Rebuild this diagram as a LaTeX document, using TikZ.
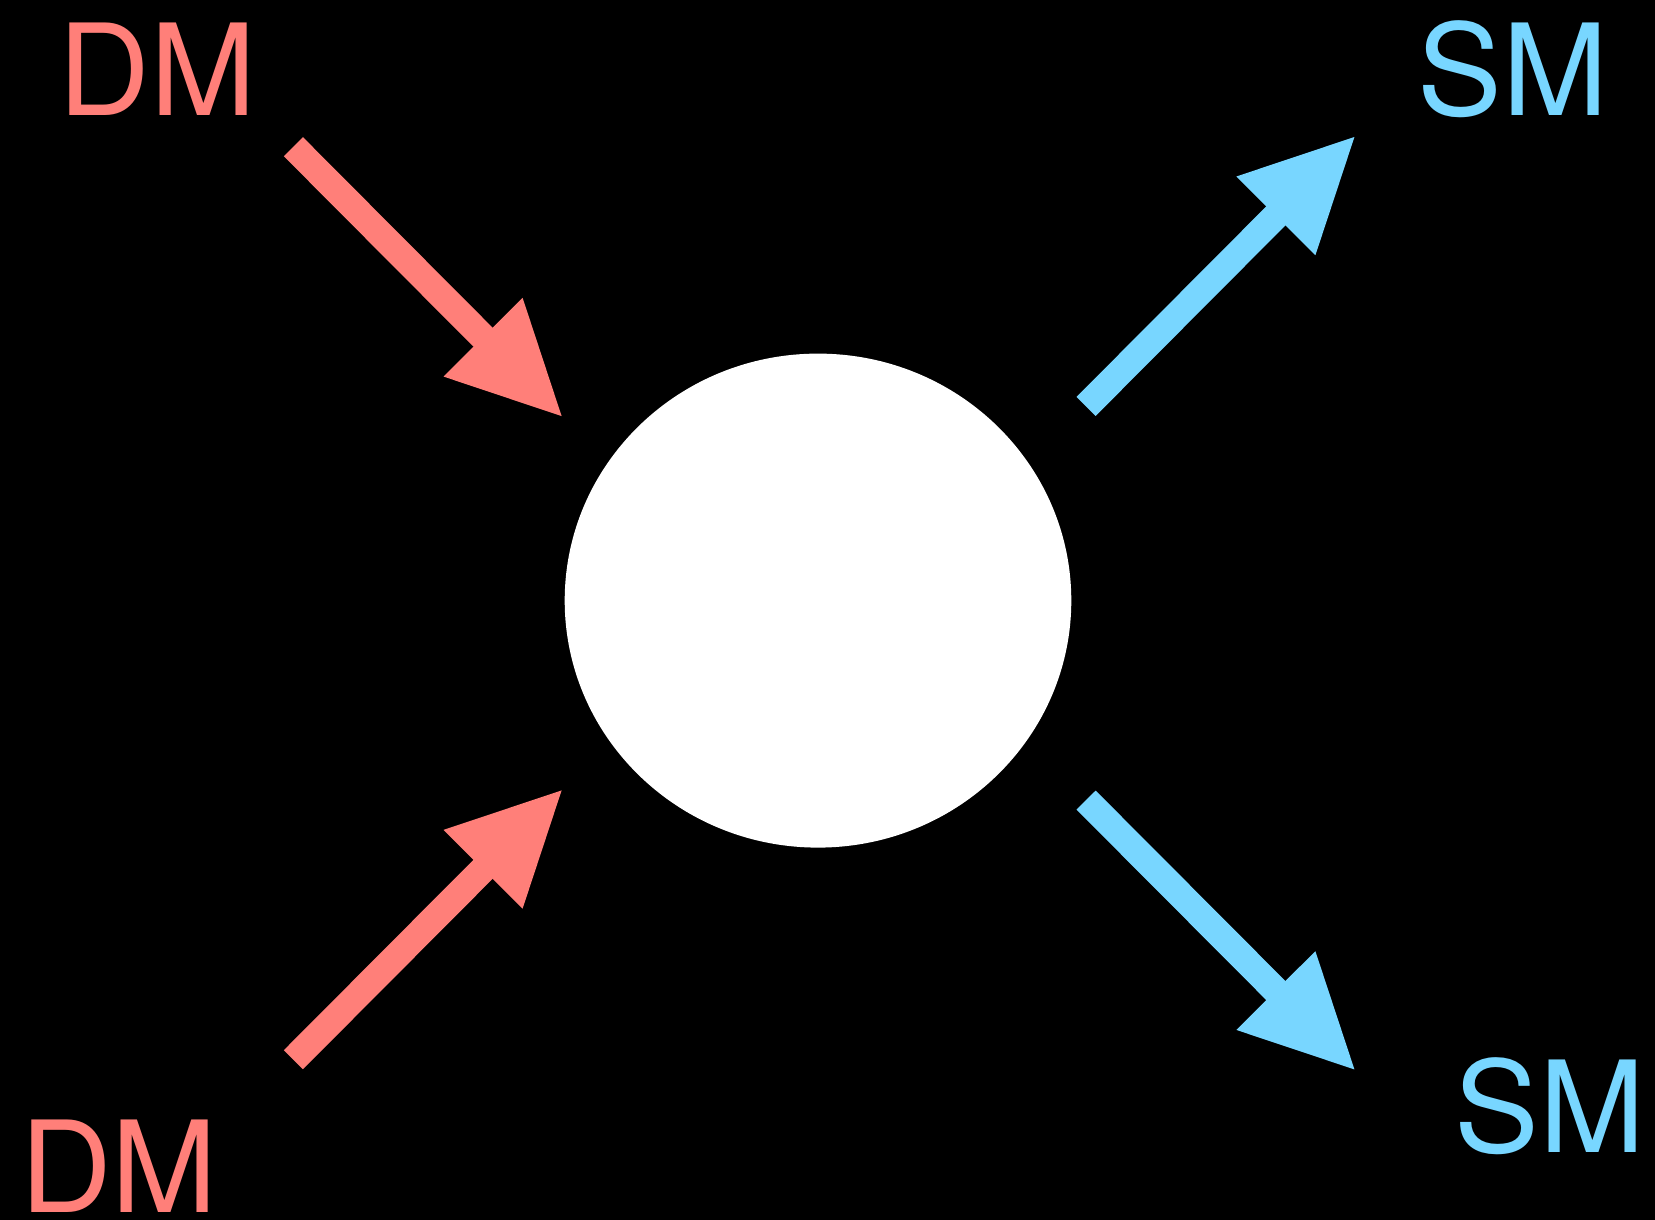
\documentclass[tikz,border=0pt]{standalone}
\usepackage{fontspec}
\setmainfont{TeX Gyre Heros}
\usetikzlibrary{arrows.meta}
\definecolor{dmred}{HTML}{FF7F79}
\definecolor{smblue}{HTML}{78D6FF}
\begin{document}
\begin{tikzpicture}[x=1pt, y=-1pt,
    flow/.style={line width=27pt, -{Triangle[length=114pt, width=103pt]}},
    lbl/.style={inner sep=0pt, anchor=base, font=\fontsize{127}{127}\selectfont}]
  \fill[black] (0,0) rectangle (1655,1220);
  \useasboundingbox (0,0) rectangle (1655,1220);
  \fill[white] (818,600.6) ellipse [x radius=253.3, y radius=247];
  \node[lbl, dmred] (dmtop) at (157.3,115.5) {DM};
  \node[lbl, dmred] (dmbot) at (118.8,1212) {DM};
  \node[lbl, smblue] (smtop) at (1513,115.5) {SM};
  \node[lbl, smblue] (smbot) at (1550,1152) {SM};
  \coordinate (intop) at (293.4,146.7);
  \coordinate (intopend) at (563.5,418);
  \coordinate (inbot) at (293.4,1059.7);
  \coordinate (inbotend) at (563.5,788.5);
  \coordinate (outtop) at (1086.1,406.4);
  \coordinate (outtopend) at (1356.3,135.1);
  \coordinate (outbot) at (1086.1,800.1);
  \coordinate (outbotend) at (1356.3,1071.3);
  \draw[flow, dmred] (intop) -- (intopend);
  \draw[flow, dmred] (inbot) -- (inbotend);
  \draw[flow, smblue] (outtop) -- (outtopend);
  \draw[flow, smblue] (outbot) -- (outbotend);
\end{tikzpicture}
\end{document}
